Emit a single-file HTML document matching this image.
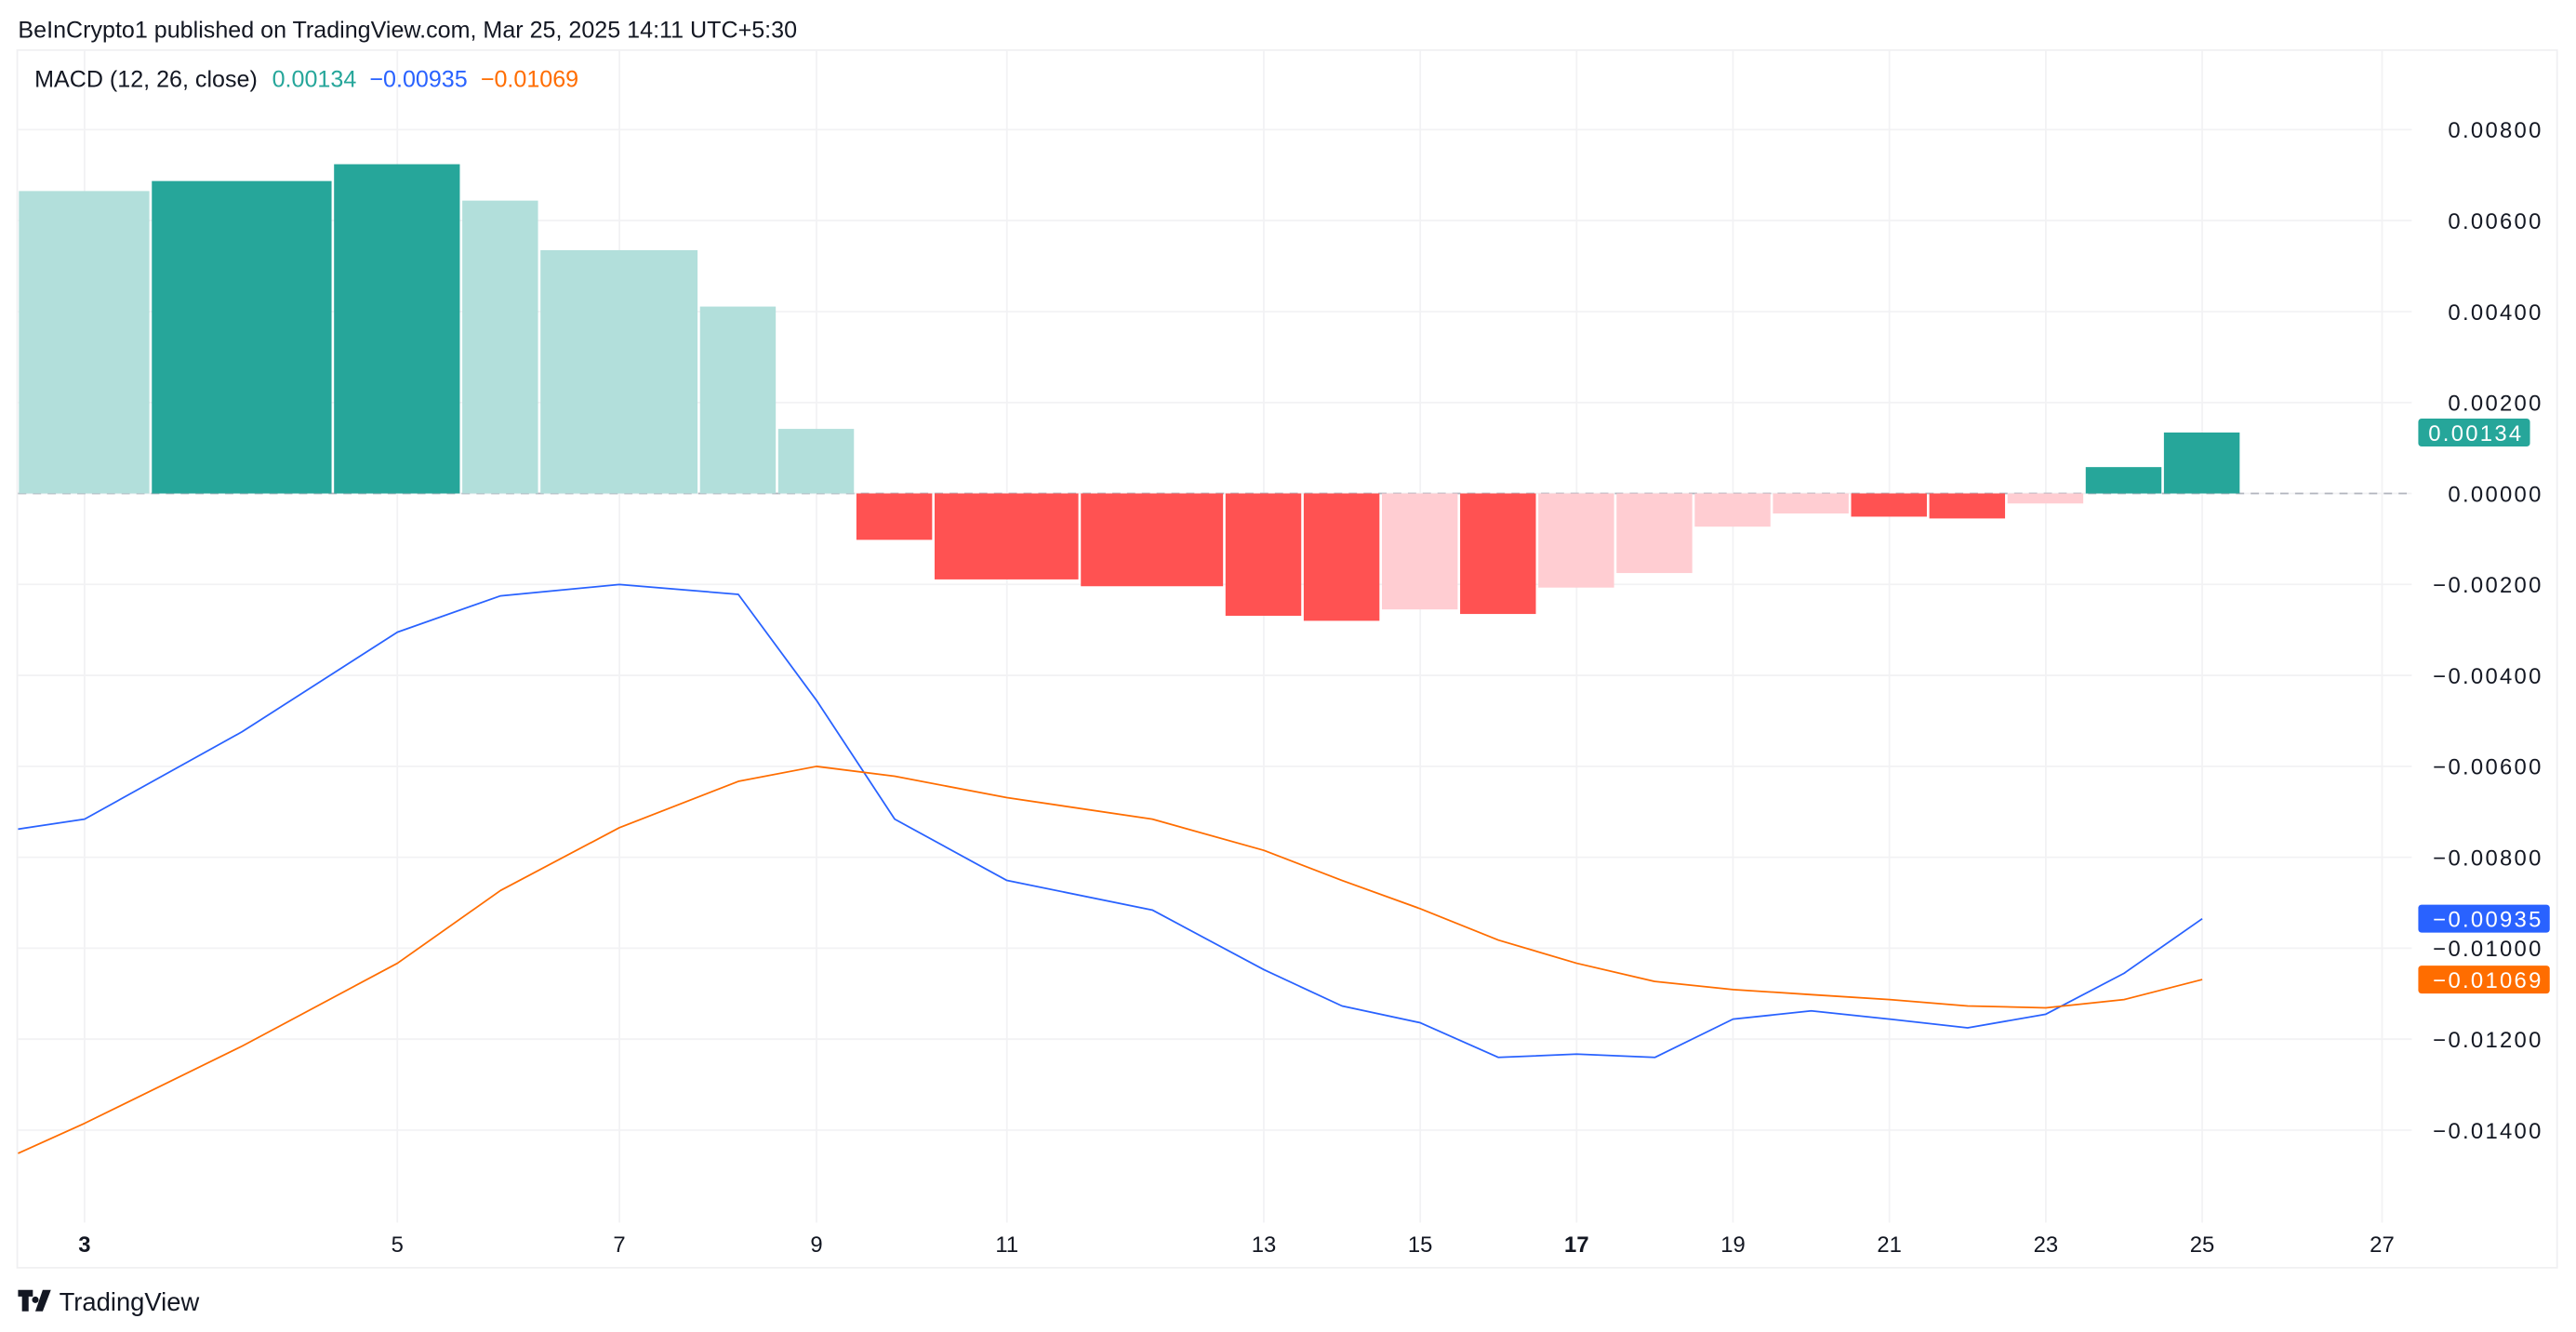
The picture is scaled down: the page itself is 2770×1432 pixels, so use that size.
<!DOCTYPE html>
<html><head><meta charset="utf-8">
<style>
html,body{margin:0;padding:0;background:#fff;}
svg{display:block;font-family:"Liberation Sans",sans-serif;}
</style></head>
<body>
<svg id="chart" width="2770" height="1432" viewBox="0 0 1568 810.6" xmlns="http://www.w3.org/2000/svg">
<text x="11" y="23" font-size="14.2" fill="#131722">BeInCrypto1 published on TradingView.com, Mar 25, 2025 14:11 UTC+5:30</text>
<rect x="10.5" y="30.5" width="1546" height="741" fill="none" stroke="#f0f0f2" stroke-width="1"/>
<g id="grid"></g>
<g id="marks"></g>
<g id="axes"></g>
<text x="21" y="53" font-size="14.2" fill="#131722">MACD (12, 26, close) <tspan fill="#26a69a" dx="5">0.00134</tspan><tspan fill="#2962ff" dx="8">−0.00935</tspan><tspan fill="#ff6d00" dx="8">−0.01069</tspan></text>
<g>
<path d="M11 785h9v4h-2.6v9h-4v-9H11z M21.5 789a2 2 0 1 0 0.01 0z M26 785h5l-5 13h-4.5z" fill="#131722"/>
<text x="36" y="797.5" font-size="15.5" fill="#131722">TradingView</text>
</g>
</svg>
<script>
const categories = ["Mar 3","Mar 4","Mar 5","Mar 6","Mar 7","Mar 8","Mar 9","Mar 10","Mar 11","Mar 12","Mar 13","Mar 14","Mar 15","Mar 16","Mar 17","Mar 18","Mar 19","Mar 20","Mar 21","Mar 22","Mar 23","Mar 24","Mar 25"];
const barSlots = [1.7,2.33,1.64,1.0,2.04,1.0,1.0,1.0,1.87,1.85,1,1,1,1,1,1,1,1,1,1,1,1,1];
const histogram = [0.00665,0.00687,0.00724,0.00644,0.00535,0.00411,0.00142,-0.00102,-0.00189,-0.00204,-0.00269,-0.0028,-0.00255,-0.00265,-0.00207,-0.00175,-0.00073,-0.00044,-0.00051,-0.00055,-0.00022,0.00058,0.00134];
const macdLine = [-0.00716,-0.00524,-0.00305,-0.00225,-0.002,-0.00222,-0.00455,-0.00716,-0.00851,-0.00916,-0.01047,-0.01127,-0.01164,-0.0124,-0.01233,-0.0124,-0.01156,-0.01138,-0.01156,-0.01175,-0.01145,-0.01055,-0.00935];
const signalLine = [-0.01385,-0.01215,-0.01033,-0.00873,-0.00735,-0.00633,-0.006,-0.00622,-0.00669,-0.00716,-0.00785,-0.00851,-0.00913,-0.00982,-0.01033,-0.01073,-0.01091,-0.01102,-0.01113,-0.01127,-0.01131,-0.01113,-0.01069];
const macdPrev = -0.00738;
const signalPrev = -0.01451;
const yTicks = [0.008,0.006,0.004,0.002,0,-0.002,-0.004,-0.006,-0.008,-0.01,-0.012,-0.014];
const xTickLabels = ["3","5","7","9","11","13","15","17","19","21","23","25","27"];
const xTickIndex = [0,2,4,6,8,10,12,14,16,18,20,22,24.3];

const NS="http://www.w3.org/2000/svg";
const plotL=11, plotR=1468, plotT=31, plotB=771, slotPx=47.6;
function y(v){ return 300.3 - v/0.002*55.35; }
const edges=[plotL]; barSlots.forEach(s=>edges.push(edges[edges.length-1]+s*slotPx));
function xCenter(i){
  if(i<barSlots.length) return (edges[i]+edges[i+1])/2;
  return (edges[barSlots.length-1]+edges[barSlots.length])/2 + (i-barSlots.length+1)*slotPx;
}
function mk(tag,attrs,parent){const e=document.createElementNS(NS,tag);for(const k in attrs)e.setAttribute(k,attrs[k]);parent.appendChild(e);return e;}
const grid=document.getElementById('grid'), marks=document.getElementById('marks'), axes=document.getElementById('axes');
function fmt(v){ if(Math.abs(v)<1e-12) return "0.00000"; return (v<0?"−":"")+Math.abs(v).toFixed(5); }

yTicks.forEach(t=>{
  const l=mk('line',{x1:plotL,x2:plotR,y1:y(t),y2:y(t),stroke:'#f2f2f4','stroke-width':1},grid);
  
  
  const tx=mk('text',{x:1548,y:y(t)+5,'font-size':13.5,'letter-spacing':1.3,fill:'#131722','text-anchor':'end'},axes);
  tx.textContent=fmt(t);
  
  
});
xTickIndex.forEach((idx,k)=>{
  const x=xCenter(idx);
  const l=mk('line',{x1:x,x2:x,y1:plotT,y2:744,stroke:'#f2f2f4','stroke-width':1},grid);
  
  
  const lab=xTickLabels[k];
  const tx=mk('text',{x:x,y:762,'font-size':13.5,fill:'#131722','text-anchor':'middle','font-weight':(lab==="3"||lab==="17")?'bold':'normal'},axes);
  tx.textContent=lab;
  
  
});
const zl=mk('line',{x1:plotL,x2:plotR,y1:y(0),y2:y(0),stroke:'#b2b5be','stroke-width':1,'stroke-dasharray':'5 4'},marks);



histogram.forEach((v,i)=>{
  const prev = i>0?histogram[i-1]:v+1;
  let c;
  if(v>=0) c = (i>0 && v>prev)?'#26a69a':'#b2dfdb';
  else c = (v<prev)?'#ff5252':'#ffcdd2';
  if(i===0) c='#b2dfdb';
  const y0=y(0), y1=y(v);
  const r=mk('rect',{x:edges[i]+0.5,y:Math.min(y0,y1),width:edges[i+1]-edges[i]-1.5,height:Math.abs(y1-y0),fill:c},marks);
  
  
});

function linePath(vals,prev){
  let d='M'+plotL+','+y(prev);
  vals.forEach((v,i)=>{ d+=' L'+xCenter(i).toFixed(1)+','+y(v).toFixed(1); });
  return d;
}
const pm=mk('path',{d:linePath(macdLine,macdPrev),fill:'none',stroke:'#2962ff','stroke-width':1,'stroke-linejoin':'round'},marks);


const ps=mk('path',{d:linePath(signalLine,signalPrev),fill:'none',stroke:'#ff6d00','stroke-width':1,'stroke-linejoin':'round'},marks);



function badge(v,color,name){
  const g=mk('g',{},axes);
  
  
  const w = v<0?80:68;
  mk('rect',{x:1472,y:y(v)-8.5,width:w,height:17,rx:2,fill:color},g);
  const t=mk('text',{x:1472+w-4,y:y(v)+5,'font-size':13.5,'letter-spacing':1.3,fill:'#fff','text-anchor':'end'},g);
  t.textContent=fmt(v);
}
badge(histogram[histogram.length-1],'#26a69a','histogram-value-badge');
badge(macdLine[macdLine.length-1],'#2962ff','macd-value-badge');
badge(signalLine[signalLine.length-1],'#ff6d00','signal-value-badge');
</script>
</body></html>
